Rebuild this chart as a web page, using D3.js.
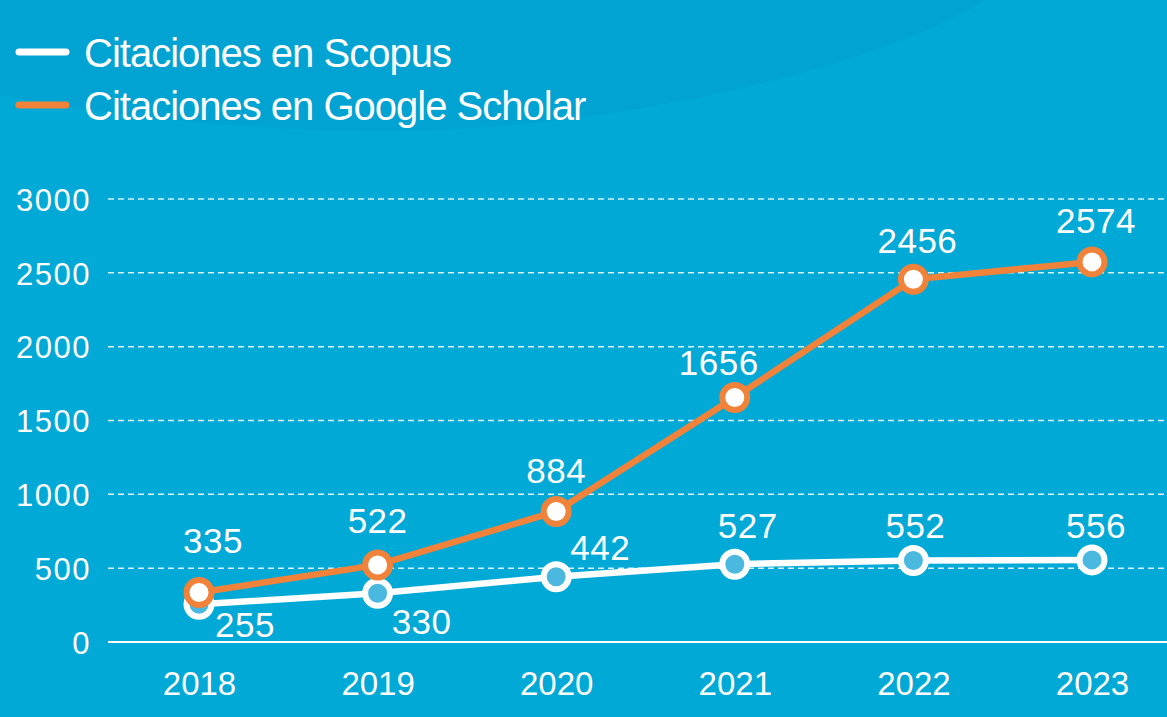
<!DOCTYPE html>
<html lang="es">
<head>
<meta charset="UTF-8">
<title>Citaciones</title>
<script src="https://d3js.org/d3.v7.min.js"></script>
<style>
  html, body { margin: 0; padding: 0; background: #00a9d6; }
  svg { display: block; font-family: "Liberation Sans", Arial, sans-serif; }
</style>
</head>
<body>
<svg id="chart" width="1167" height="717"></svg>
<script>
// datos
var years = ["2018", "2019", "2020", "2021", "2022", "2023"];
var scopus = [255, 330, 442, 527, 552, 556];
var scholar = [335, 522, 884, 1656, 2456, 2574];
var yTicks = [0, 500, 1000, 1500, 2000, 2500, 3000];
var seriesNames = ["Citaciones en Scopus", "Citaciones en Google Scholar"];

var W = 1167, H = 717;
var orange = "#f0823a";
var svg = d3.select("#chart");

// fondo con la onda oscura arriba
svg.append("rect").attr("width", W).attr("height", H).attr("fill", "#00a9d6");
svg.append("path")
  .attr("d", "M0,0 L985,0 C860,75 620,120 470,128 C300,138 120,118 0,95 Z")
  .attr("fill", "#00a3d1");

var x = d3.scalePoint().domain(years).range([199, 1092]);
var y = d3.scaleLinear().domain([0, 3000]).range([642, 199]);

// rejilla
var grid = svg.append("g");
grid.selectAll("line").data(yTicks.filter(function(d) { return d > 0; })).enter()
  .append("line")
  .attr("x1", 108).attr("x2", W)
  .attr("y1", function(d) { return y(d); })
  .attr("y2", function(d) { return y(d); })
  .attr("stroke", "#ffffff").attr("stroke-opacity", 0.85)
  .attr("stroke-width", 1.5).attr("stroke-dasharray", "6,4");

// eje Y
var yAxis = d3.axisLeft(y).tickValues(yTicks).tickFormat(d3.format("d")).tickSize(0).tickPadding(0);
var gy = svg.append("g").attr("transform", "translate(91,0)").call(yAxis);
gy.select(".domain").remove();
gy.selectAll("text").attr("fill", "#fff").attr("font-size", 31).attr("letter-spacing", 1.5)
  .attr("font-family", "Liberation Sans, Arial, sans-serif").attr("dy", "0.36em");

// eje X (línea base)
var xAxis = d3.axisBottom(x).tickSize(0).tickPadding(0);
var gx = svg.append("g").attr("transform", "translate(0,642)").call(xAxis);
gx.select(".domain").remove();
gx.selectAll("text").attr("fill", "#fff").attr("font-size", 33)
  .attr("font-family", "Liberation Sans, Arial, sans-serif").attr("dy", "1.6em");
svg.append("line").attr("x1", 108).attr("x2", W).attr("y1", y(0)).attr("y2", y(0))
  .attr("stroke", "#fff").attr("stroke-width", 2);

var line = d3.line().x(function(d, i) { return x(years[i]); }).y(function(d) { return y(d); });

// Scopus
svg.append("path").datum(scopus).attr("d", line)
  .attr("fill", "none").attr("stroke", "#fff").attr("stroke-width", 6.5);
svg.selectAll(".mS").data(scopus).enter().append("circle")
  .attr("cx", function(d, i) { return x(years[i]); })
  .attr("cy", function(d) { return y(d); })
  .attr("r", 12.5).attr("fill", "#4bb8e0").attr("stroke", "#fff").attr("stroke-width", 6);

// Google Scholar
svg.append("path").datum(scholar).attr("d", line)
  .attr("fill", "none").attr("stroke", orange).attr("stroke-width", 6.5);
svg.selectAll(".mG").data(scholar).enter().append("circle")
  .attr("cx", function(d, i) { return x(years[i]); })
  .attr("cy", function(d) { return y(d); })
  .attr("r", 12.5).attr("fill", "#fff").attr("stroke", orange).attr("stroke-width", 6);

// etiquetas de valores
var scopusOff = [[46, 33], [44, 41], [44, -17], [13, -26], [2, -22], [4, -22]];
var scholarOff = [[14, -40], [0, -32], [0, -28], [-16, -22], [4, -26], [4, -29]];
function labels(data, offs) {
  svg.append("g").selectAll("text").data(data).enter().append("text")
    .attr("x", function(d, i) { return x(years[i]) + offs[i][0]; })
    .attr("y", function(d) { return y(d); })
    .attr("dy", function(d, i) { return offs[i][1]; })
    .attr("text-anchor", "middle").attr("fill", "#fff")
    .attr("font-size", 35).attr("letter-spacing", 0.5).text(function(d) { return d; });
}
labels(scopus, scopusOff);
labels(scholar, scholarOff);

// leyenda
var legend = svg.append("g");
var colors = ["#fff", orange];
seriesNames.forEach(function(name, i) {
  var ly = 52 + i * 53;
  legend.append("line").attr("x1", 19).attr("x2", 66).attr("y1", ly).attr("y2", ly)
    .attr("stroke", colors[i]).attr("stroke-width", 7).attr("stroke-linecap", "round");
  legend.append("text").attr("x", 84).attr("y", ly + 15).attr("fill", "#fff")
    .attr("font-size", 40).attr("letter-spacing", -1).text(name);
});
</script>
</body>
</html>
